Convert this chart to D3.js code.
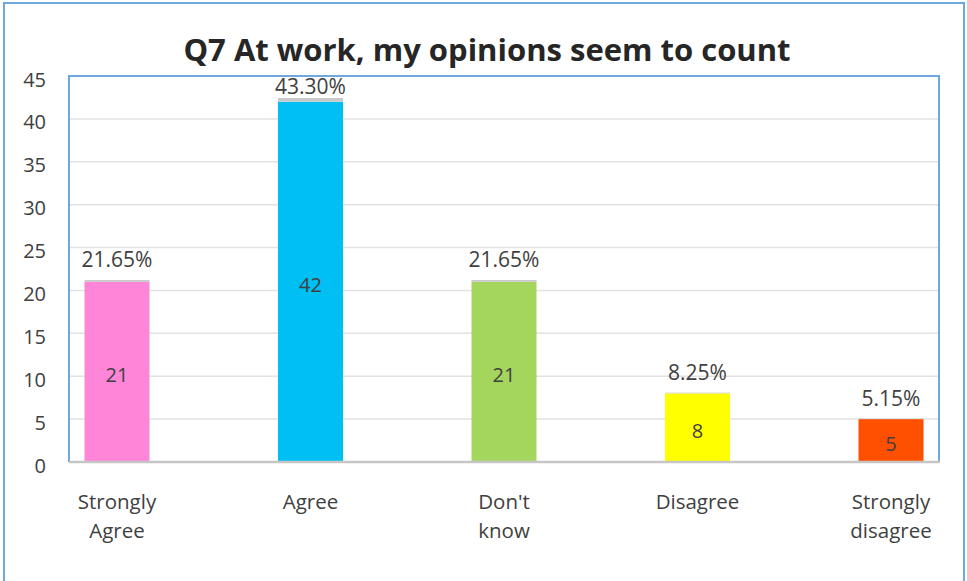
<!DOCTYPE html>
<html>
<head>
<meta charset="utf-8">
<script src="https://cdn.jsdelivr.net/npm/d3@7"></script>
<style>
  html, body { margin: 0; padding: 0; background: #fff; }
  svg { display: block; }
  text { font-family: "Open Sans", "Liberation Sans", sans-serif; fill: #404040; }
</style>
</head>
<body>
<svg id="chart" width="967" height="581"></svg>
<script>
// Survey responses: counts per answer and their share of all answers
const categories = ["Strongly Agree", "Agree", "Don't know", "Disagree", "Strongly disagree"];
const categoryLines = [["Strongly", "Agree"], ["Agree"], ["Don't", "know"], ["Disagree"], ["Strongly", "disagree"]];
const counts = [21, 42, 21, 8, 5];
const percents = [0.2165, 0.4330, 0.2165, 0.0825, 0.0515];
const percentLabels = ["21.65%", "43.30%", "21.65%", "8.25%", "5.15%"];
const barColors = ["#ff85d8", "#00bff3", "#a4d65e", "#ffff00", "#ff5000"];
const yTicks = [0, 5, 10, 15, 20, 25, 30, 35, 40, 45];
const title = "Q7 At work, my opinions seem to count";

const svg = d3.select("#chart");
const plot = { left: 69, right: 939, top: 76, bottom: 462 };

// outer frame
svg.append("rect")
  .attr("x", 4).attr("y", 3).attr("width", 960).attr("height", 600)
  .attr("fill", "#fff").attr("stroke", "#6fa8dc").attr("stroke-width", 2);

// title
svg.append("text")
  .attr("x", 487).attr("y", 61)
  .attr("text-anchor", "middle")
  .style("font-size", "31px").style("font-weight", "700")
  .style("fill", "#262626")
  .text(title);

const y = d3.scaleLinear().domain([0, 45]).range([plot.bottom, plot.top]);
const x = d3.scalePoint().domain(categories).range([plot.left + 48, plot.right - 48]);
const barW = 65;

// gridlines
svg.append("g").selectAll("line")
  .data(yTicks.filter(d => d > 0))
  .join("line")
  .attr("x1", plot.left).attr("x2", plot.right)
  .attr("y1", d => y(d)).attr("y2", d => y(d))
  .attr("stroke", "#e2e2e2").attr("stroke-width", 1.5);

// y axis labels
const yAxis = d3.axisLeft(y).tickValues(yTicks).tickSize(0).tickPadding(0);
const gy = svg.append("g").attr("transform", `translate(46,3)`).call(yAxis);
gy.select(".domain").remove();
gy.selectAll("text").style("font-size", "20px").style("fill", "#404040").attr("dy", "0.35em");

// count bars
svg.append("g").selectAll("rect")
  .data(categories)
  .join("rect")
  .attr("x", d => x(d) - barW / 2)
  .attr("width", barW)
  .attr("y", (d, i) => y(counts[i]))
  .attr("height", (d, i) => y(0) - y(counts[i]))
  .attr("fill", (d, i) => barColors[i]);

// share segments stacked on top of each bar
svg.append("g").selectAll("rect")
  .data(categories)
  .join("rect")
  .attr("x", d => x(d) - barW / 2)
  .attr("width", barW)
  .attr("y", (d, i) => y(counts[i] + percents[i]))
  .attr("height", (d, i) => y(counts[i]) - y(counts[i] + percents[i]))
  .attr("fill", "#c9c9c9");

// count labels inside bars
svg.append("g").selectAll("text")
  .data(categories)
  .join("text")
  .attr("x", d => x(d))
  .attr("y", (d, i) => y(counts[i] / 2) + 3)
  .attr("dy", "0.35em")
  .attr("text-anchor", "middle")
  .style("font-size", "20px")
  .text((d, i) => counts[i]);

// percent labels above bars, kept inside the plot area
svg.append("g").selectAll("text")
  .data(categories)
  .join("text")
  .attr("x", d => x(d))
  .attr("y", (d, i) => Math.max(y(counts[i] + percents[i]) - 20, plot.top + 11))
  .attr("dy", "0.35em")
  .attr("text-anchor", "middle")
  .style("font-size", "21px")
  .text((d, i) => percentLabels[i]);

// plot border: left, top, right in blue
svg.append("path")
  .attr("d", `M${plot.left},${plot.bottom}V${plot.top}H${plot.right}V${plot.bottom}`)
  .attr("fill", "none").attr("stroke", "#6fa8dc").attr("stroke-width", 2);

// category axis line
svg.append("line")
  .attr("x1", plot.left).attr("x2", plot.right + 1)
  .attr("y1", plot.bottom).attr("y2", plot.bottom)
  .attr("stroke", "#c6c6c6").attr("stroke-width", 2.5);

// category labels
const gx = svg.append("g").selectAll("text")
  .data(categories)
  .join("text")
  .attr("x", d => x(d))
  .attr("y", 509)
  .attr("text-anchor", "middle")
  .style("font-size", "20.5px");
gx.each(function (d, i) {
  const t = d3.select(this);
  categoryLines[i].forEach((line, k) => {
    t.append("tspan").attr("x", x(d)).attr("dy", k === 0 ? 0 : 29).text(line);
  });
});
</script>
</body>
</html>
